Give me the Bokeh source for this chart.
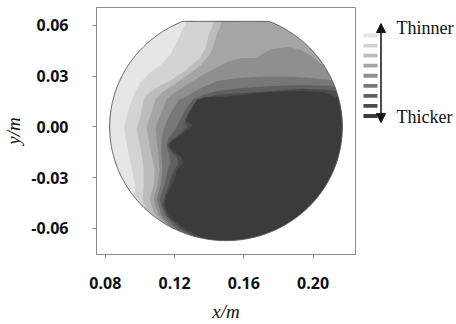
import numpy as np
from bokeh.plotting import figure
from bokeh.layouts import row
from bokeh.models import Range1d, FixedTicker, PrintfTickFormatter, Arrow, NormalHead
from bokeh.core.properties import value
from bokeh.embed import file_html
from bokeh.resources import INLINE

# ---------------- data ----------------
x_ticks = [0.08, 0.12, 0.16, 0.20]
y_ticks = [-0.06, -0.03, 0.00, 0.03, 0.06]

wafer_cx = 0.1497
wafer_cy = 0.0
wafer_r = 0.0672
wafer_flat_y = 0.0624

# grey levels, thinnest (light) -> thickest (dark)
level_colors = ["#e6e6e6", "#d3d3d3", "#bcbcbc", "#a5a5a5", "#8f8f8f",
                "#777777", "#606060", "#4b4b4b", "#3b3b3b"]
legend_top_label = "Thinner"
legend_bottom_label = "Thicker"

# contour boundaries (region right / below each line is the next thicker level)
b1_x = [0.1278, 0.1261, 0.1232, 0.1204, 0.1175, 0.1119, 0.1062, 0.1005, 0.0971, 0.0954,
        0.0925, 0.0908, 0.0919, 0.0937, 0.0954, 0.0971, 0.0971, 0.0908]
b1_y = [0.0680, 0.0603, 0.0544, 0.0485, 0.0426, 0.0366, 0.0325, 0.0266, 0.0207, 0.0160,
        0.0071, 0.0, -0.0077, -0.0165, -0.0254, -0.0343, -0.0384, -0.0461]

b2_x = [0.1443, 0.1420, 0.1397, 0.1380, 0.1346, 0.1266, 0.1181, 0.1090, 0.1039, 0.1022,
        0.1005, 0.0982, 0.0993, 0.1010, 0.1022, 0.1022, 0.1016, 0.1039, 0.0993]
b2_y = [0.0680, 0.0603, 0.0544, 0.0467, 0.0408, 0.0337, 0.0278, 0.0230, 0.0189, 0.0160,
        0.0071, 0.0, -0.0077, -0.0165, -0.0254, -0.0343, -0.0431, -0.0502, -0.0579]

b3_x = [0.1488, 0.1466, 0.1443, 0.1426, 0.1403, 0.1352, 0.1278, 0.1192, 0.1124, 0.1090,
        0.1062, 0.1039, 0.1050, 0.1067, 0.1085, 0.1079, 0.1056, 0.1079, 0.1124, 0.1079]
b3_y = [0.0680, 0.0603, 0.0544, 0.0485, 0.0426, 0.0366, 0.0307, 0.0248, 0.0201, 0.0160,
        0.0071, 0.0, -0.0077, -0.0165, -0.0254, -0.0343, -0.0431, -0.0502, -0.0561, -0.0638]

b4_x = [0.2216, 0.2114, 0.2046, 0.1989, 0.1932, 0.1858, 0.1761, 0.1716, 0.1676, 0.1591,
        0.1505, 0.1392, 0.1278, 0.1181, 0.1153, 0.1119, 0.1090, 0.1096, 0.1107, 0.1113,
        0.1101, 0.1079, 0.1107, 0.1170, 0.1238, 0.1238]
b4_y = [0.0325, 0.0349, 0.0372, 0.0420, 0.0455, 0.0473, 0.0461, 0.0437, 0.0408, 0.0408,
        0.0384, 0.0325, 0.0254, 0.0189, 0.0160, 0.0071, 0.0, -0.0077, -0.0165, -0.0254,
        -0.0343, -0.0431, -0.0520, -0.0597, -0.0656, -0.0727]

b5_x = [0.2216, 0.2103, 0.1989, 0.1875, 0.1704, 0.1562, 0.1448, 0.1352, 0.1272, 0.1227,
        0.1181, 0.1153, 0.1136, 0.1124, 0.1124, 0.1130, 0.1119, 0.1096, 0.1124, 0.1181,
        0.1261, 0.1261]
b5_y = [0.0254, 0.0278, 0.0290, 0.0296, 0.0296, 0.0290, 0.0272, 0.0230, 0.0183, 0.0160,
        0.0089, 0.0030, -0.0018, -0.0077, -0.0165, -0.0254, -0.0343, -0.0431, -0.0520,
        -0.0597, -0.0644, -0.0727]

b6_x = [0.2216, 0.2103, 0.1932, 0.1761, 0.1591, 0.1448, 0.1363, 0.1306, 0.1261, 0.1232,
        0.1204, 0.1164, 0.1153, 0.1170, 0.1175, 0.1158, 0.1141, 0.1113, 0.1141, 0.1204,
        0.1295, 0.1295]
b6_y = [0.0219, 0.0242, 0.0248, 0.0242, 0.0230, 0.0213, 0.0189, 0.0160, 0.0100, 0.0041,
        -0.0018, -0.0065, -0.0112, -0.0165, -0.0213, -0.0266, -0.0343, -0.0431, -0.0520,
        -0.0597, -0.0650, -0.0727]

b7_x = [0.2216, 0.2103, 0.1932, 0.1761, 0.1591, 0.1448, 0.1363, 0.1318, 0.1283, 0.1261,
        0.1272, 0.1238, 0.1192, 0.1158, 0.1181, 0.1215, 0.1221, 0.1192, 0.1170, 0.1147,
        0.1130, 0.1158, 0.1227, 0.1335, 0.1335]
b7_y = [0.0189, 0.0219, 0.0225, 0.0213, 0.0201, 0.0189, 0.0171, 0.0142, 0.0089, 0.0035,
        0.0, -0.0035, -0.0071, -0.0106, -0.0148, -0.0183, -0.0219, -0.0266, -0.0331, -0.0402,
        -0.0461, -0.0526, -0.0597, -0.0656, -0.0727]

b8_x = [0.2216, 0.2131, 0.2057, 0.1932, 0.1761, 0.1591, 0.1477, 0.1380, 0.1329, 0.1295,
        0.1261, 0.1306, 0.1278, 0.1227, 0.1175, 0.1170, 0.1198, 0.1238, 0.1249, 0.1215,
        0.1198, 0.1175, 0.1153, 0.1141, 0.1170, 0.1249, 0.1363, 0.1448, 0.1448]
b8_y = [0.0148, 0.0177, 0.0207, 0.0213, 0.0207, 0.0189, 0.0177, 0.0177, 0.0160, 0.0100,
        0.0041, 0.0012, -0.0018, -0.0053, -0.0089, -0.0118, -0.0148, -0.0177, -0.0213, -0.0254,
        -0.0313, -0.0361, -0.0402, -0.0461, -0.0532, -0.0597, -0.0656, -0.0680, -0.0727]

boundaries = [(b1_x, b1_y), (b2_x, b2_y), (b3_x, b3_y), (b4_x, b4_y),
              (b5_x, b5_y), (b6_x, b6_y), (b7_x, b7_y), (b8_x, b8_y)]

# ---------------- main plot ----------------
X_RANGE = (0.0749, 0.2245)
Y_RANGE = (-0.0754, 0.0706)

p = figure(width=356, height=324, x_range=Range1d(*X_RANGE), y_range=Range1d(*Y_RANGE),
           output_backend="svg", toolbar_location=None,
           min_border_left=92, min_border_right=1, min_border_top=7, min_border_bottom=70)
p.grid.visible = False
p.outline_line_color = "#8c8c8c"
p.background_fill_color = "white"
p.border_fill_color = "white"

# wafer outline (circle truncated by the flat)
t = np.linspace(0, 2 * np.pi, 721)
wx = wafer_cx + wafer_r * np.cos(t)
wy = np.minimum(wafer_cy + wafer_r * np.sin(t), wafer_flat_y)
wx_l, wy_l = list(wx), list(wy)

# base level
p.patch(wx_l, wy_l, fill_color=level_colors[0], line_color=None)

x_far = 0.2223
y_high = 0.0690
y_low = -0.0736
for (bx, by), col in zip(boundaries, level_colors[1:]):
    px = list(bx) + [bx[-1], x_far, x_far, bx[0]]
    py = list(by) + [y_low, y_low, y_high, y_high]
    p.patch(px, py, fill_color=col, line_color=None)

# white mask outside the wafer
mx0, mx1 = X_RANGE[0] + 0.0006, X_RANGE[1] - 0.0007
my0, my1 = Y_RANGE[0] + 0.0006, Y_RANGE[1] - 0.0006
outer_x = [mx0, mx1, mx1, mx0]
outer_y = [my0, my0, my1, my1]
p.multi_polygons(xs=[[[outer_x, wx_l[::-1]]]], ys=[[[outer_y, wy_l[::-1]]]],
                 fill_color="white", line_color=None)
p.line(wx_l, wy_l, line_color="#5a5a5a", line_width=1)

for ax in (p.xaxis[0], p.yaxis[0]):
    ax.axis_line_color = "#8c8c8c"
    ax.major_tick_line_color = "#8c8c8c"
    ax.major_tick_out = 4
    ax.major_tick_in = 0
    ax.minor_tick_line_color = None
    ax.major_label_text_font = "Open Sans"
    ax.major_label_text_font_style = "bold"
    ax.major_label_text_font_size = "16px"
    ax.major_label_text_color = "#111111"
    ax.axis_label_text_font = "Liberation Serif"
    ax.axis_label_text_font_style = "italic"
    ax.axis_label_text_font_size = "19px"
    ax.axis_label_text_color = "#111111"
    ax.formatter = PrintfTickFormatter(format="%.2f")

p.xaxis[0].ticker = FixedTicker(ticks=x_ticks)
p.yaxis[0].ticker = FixedTicker(ticks=y_ticks)
p.xaxis[0].axis_label = "x/m"
p.yaxis[0].axis_label = "y/m"
p.xaxis[0].major_label_standoff = 18
p.yaxis[0].major_label_standoff = 24
p.xaxis[0].axis_label_standoff = 9
p.yaxis[0].axis_label_standoff = 4

# ---------------- legend panel ----------------
q = figure(width=100, height=324, x_range=Range1d(356, 456), y_range=Range1d(324, 0),
           output_backend="svg", toolbar_location=None, min_border=0,
           x_axis_type=None, y_axis_type=None)
q.grid.visible = False
q.outline_line_color = None

first_c, step = 36.7, 13.2
centers = [first_c + i * step for i in range(len(level_colors))]
q.quad(left=[363] * len(centers), right=[377] * len(centers),
       top=[c - 2.5 for c in centers], bottom=[c + 2.5 for c in centers],
       fill_color=level_colors, line_color=None)

q.add_layout(Arrow(start=NormalHead(size=9, fill_color="#111111", line_color="#111111"),
                   end=NormalHead(size=9, fill_color="#111111", line_color="#111111"),
                   x_start=380.5, y_start=151, x_end=380.5, y_end=21,
                   line_color="#111111", line_width=1.5))

q.text(x=[396, 396], y=[27, 144], text=[legend_top_label, legend_bottom_label],
       text_font=value("Liberation Serif"), text_font_size="18px",
       text_baseline="middle", text_align="left", text_color="#111111")

layout = row(p, q)
open("out.html", "w").write(file_html(layout, INLINE))
